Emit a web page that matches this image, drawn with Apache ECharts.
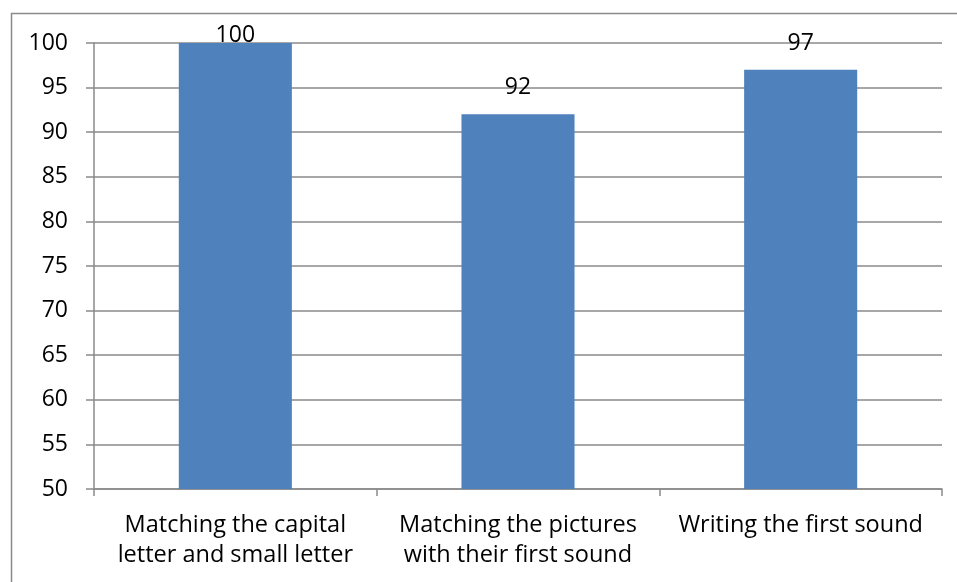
<!DOCTYPE html>
<html>
<head>
<meta charset="utf-8">
<title>Task scores</title>
<script src="https://cdn.jsdelivr.net/npm/echarts@6/dist/echarts.min.js"></script>
<style>
  html, body { margin: 0; padding: 0; background: #fff; }
  #chart { width: 957px; height: 582px; }
</style>
</head>
<body>
<div id="chart"></div>
<script>
// Categories and scores
const categories = [
  'Matching the capital\nletter and small letter',
  'Matching the pictures\nwith their first sound',
  'Writing the first sound'
];
const scores = [100, 92, 97];
const yMin = 50;
const yMax = 100;
const yStep = 5;

const FONT = '"Open Sans", "Noto Sans", sans-serif';
const LINE = '#8a8a8a';

const chart = echarts.init(document.getElementById('chart'), null, { renderer: 'canvas' });

chart.setOption({
  animation: false,
  backgroundColor: '#ffffff',
  graphic: [{
    type: 'rect',
    shape: { x: 11.5, y: 13.5, width: 980, height: 620 },
    style: { fill: 'none', stroke: LINE, lineWidth: 1.5 },
    silent: true,
    z: -1
  }],
  grid: { left: 94, right: 15, top: 43, bottom: 93, containLabel: false },
  xAxis: {
    type: 'category',
    data: categories,
    axisLine: { show: true, lineStyle: { color: LINE, width: 1.5 } },
    axisTick: { show: true, alignWithLabel: false, length: 7, lineStyle: { color: LINE, width: 1.5 } },
    axisLabel: {
      color: '#000',
      fontFamily: FONT,
      fontSize: 23.5,
      lineHeight: 30,
      margin: 21,
      interval: 0
    },
    splitLine: { show: false }
  },
  yAxis: {
    type: 'value',
    min: yMin,
    max: yMax,
    interval: yStep,
    axisLine: { show: true, lineStyle: { color: LINE, width: 1.5 } },
    axisTick: { show: true, length: 8, lineStyle: { color: LINE, width: 1.5 } },
    axisLabel: {
      color: '#000',
      fontFamily: FONT,
      fontSize: 23,
      margin: 26
    },
    splitLine: { show: true, lineStyle: { color: LINE, width: 1.5 } }
  },
  series: [{
    type: 'bar',
    barWidth: '40%',
    itemStyle: { color: '#4F81BD' },
    data: scores.map(v => ({
      value: v,
      label: {
        show: true,
        position: 'top',
        // labels of bars reaching the top of the axis are pulled down onto the bar edge
        distance: v >= yMax - 2 ? -4 : 15,
        color: '#000',
        fontFamily: FONT,
        fontSize: 23
      }
    }))
  }]
});
</script>
</body>
</html>
